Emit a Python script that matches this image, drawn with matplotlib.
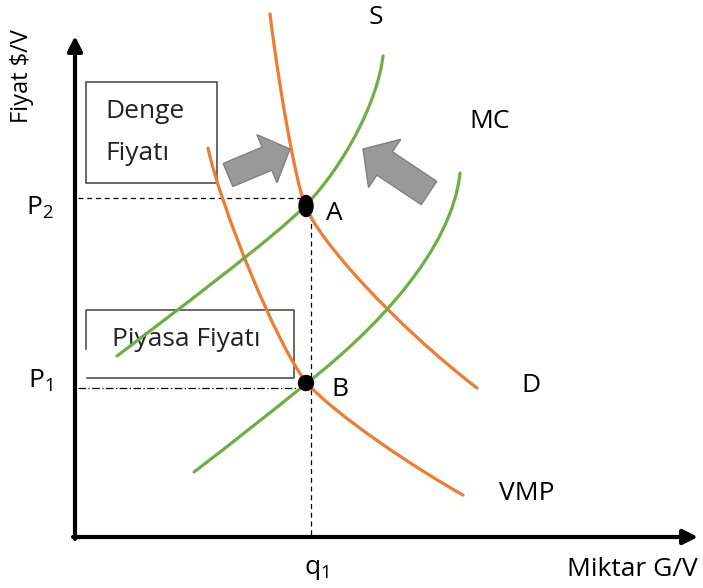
import matplotlib.pyplot as plt
from matplotlib.path import Path
from matplotlib.patches import PathPatch, Ellipse, Circle, Rectangle, FancyArrow

plt.rcParams["font.family"] = ["Open Sans", "DejaVu Sans"]

# curves as cubic bezier control points (pixel space of the original drawing)
d_curve = [(270, 14), (278, 80), (295, 180), (305, 205),
           (318, 240), (395, 325), (477, 388)]
vmp_curve = [(208, 148), (220, 205), (277, 347), (307, 383),
             (335, 415), (418, 470), (463, 495)]
s_curve = [(117, 356), (167, 318), (275, 237), (305, 206),
           (345, 165), (378, 100), (383, 56)]
mc_curve = [(194, 472), (232, 443), (270, 413), (307, 383),
            (375, 330), (452, 250), (460, 173)]

point_a = (306, 206)
point_b = (306, 383)
q1 = 311
p2 = 198
p1 = 388

orange = "#ED7D31"
green = "#70AD47"

fig = plt.figure(figsize=(7.03, 5.88), dpi=100)
ax = fig.add_axes([0, 0, 1, 1])
ax.set_xlim(0, 703)
ax.set_ylim(588, 0)
ax.axis("off")


def bezier(pts, color):
    codes = [Path.MOVETO] + [Path.CURVE4] * (len(pts) - 1)
    ax.add_patch(PathPatch(Path(pts, codes), fill=False, edgecolor=color,
                           lw=2.3, capstyle="round", zorder=3))


fs = 19

# boxes
ax.add_patch(Rectangle((86, 82), 131, 101, fill=False, ec="#404040", lw=1.1, zorder=1))
ax.plot([86, 86, 294, 294, 87], [349, 310, 310, 378, 378], color="#404040", lw=1.1, zorder=1)
ax.text(105, 112, "Denge", fontsize=fs, va="center", color="#222222")
ax.text(105, 153, "Fiyatı", fontsize=fs, va="center", color="#222222")
ax.text(186, 339, "Piyasa Fiyatı", fontsize=fs, ha="center", va="center", color="#222222")

# guide lines
ax.plot([78, point_a[0]], [p2, p2], color="black", lw=0.9, ls=(0, (4, 3)), zorder=2)
ax.plot([78, point_b[0]], [p1, p1], color="black", lw=0.9, ls=(0, (6, 2, 1, 2)), zorder=2)
ax.plot([q1, q1], [point_a[1], 537], color="black", lw=0.9, ls=(0, (4, 3)), zorder=2)

for pts, c in [(d_curve, orange), (vmp_curve, orange), (s_curve, green), (mc_curve, green)]:
    bezier(pts, c)

ax.add_patch(Ellipse(point_a, 14, 21, color="black", zorder=5))
ax.add_patch(Circle(point_b, 7.5, color="black", zorder=5))

# shift arrows
ax.add_patch(FancyArrow(228, 175, 62, -26, width=25, head_width=52, head_length=25,
                        length_includes_head=True, fc="#999999", ec="#808080", lw=1, zorder=4))
ax.add_patch(FancyArrow(429, 193, -66, -44, width=28, head_width=58, head_length=26,
                        length_includes_head=True, fc="#999999", ec="#808080", lw=1, zorder=4))

# axes
ax.annotate("", xy=(75, 36), xytext=(75, 539),
            arrowprops=dict(arrowstyle="-|>", lw=3, color="black", mutation_scale=22,
                            shrinkA=0, shrinkB=0))
ax.annotate("", xy=(698, 537), xytext=(73, 537),
            arrowprops=dict(arrowstyle="-|>", lw=3, color="black", mutation_scale=22,
                            shrinkA=0, shrinkB=0))

# labels
ax.text(376, 17, "S", fontsize=fs, ha="center", va="center")
ax.text(490, 121, "MC", fontsize=fs, ha="center", va="center")
ax.text(531, 386, "D", fontsize=fs, ha="center", va="center")
ax.text(527, 493, "VMP", fontsize=fs, ha="center", va="center")
ax.text(334, 213, "A", fontsize=fs, ha="center", va="center")
ax.text(340, 390, "B", fontsize=fs, ha="center", va="center")
ax.text(40, 208, r"P$_\mathregular{2}$", fontsize=fs, ha="center", va="center")
ax.text(40, 381, r"P$_\mathregular{1}$", fontsize=fs, ha="center", va="center")
ax.text(316, 570, r"q$_\mathregular{1}$", fontsize=fs, ha="center", va="center")
ax.text(632, 570, "Miktar G/V", fontsize=fs, ha="center", va="center")
ax.text(22, 76, "Fiyat \\$/V", fontsize=17, ha="center", va="center", rotation=90)

fig.savefig("out.png", dpi=100)
